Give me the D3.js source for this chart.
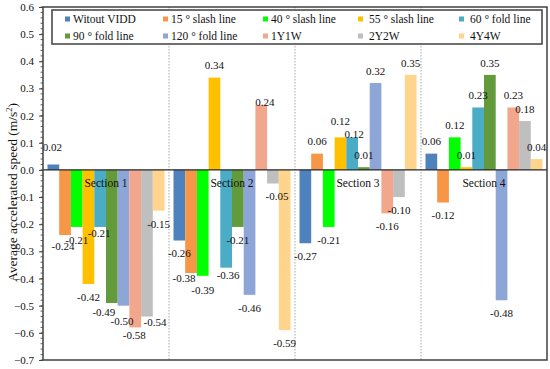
<!DOCTYPE html>
<html><head><meta charset="utf-8">
<script src="https://cdn.jsdelivr.net/npm/d3@7"></script>
</head>
<body style="margin:0;background:#fff"><svg id="chart" width="550" height="369"></svg>
<script>
// ---------- data ----------
const sections = ["Section 1", "Section 2", "Section 3", "Section 4"];
const seriesNames = ["Witout VIDD", "15 ° slash line", "40 ° slash line", "55 ° slash line", "60 ° fold line",
  "90 ° fold line", "120 ° fold line", "1Y1W", "2Y2W", "4Y4W"];
const witoutVIDD = [0.02, -0.26, -0.27, 0.06];
const slash15 = [-0.24, -0.38, 0.06, -0.12];
const slash40 = [-0.21, -0.39, -0.21, 0.12];
const slash55 = [-0.42, 0.34, 0.12, 0.01];
const fold60 = [-0.21, -0.36, 0.12, 0.23];
const fold90 = [-0.49, -0.21, 0.01, 0.35];
const fold120 = [-0.50, -0.46, 0.32, -0.48];
const y1w1 = [-0.58, 0.24, -0.16, 0.23];
const y2w2 = [-0.54, -0.05, -0.10, 0.18];
const y4w4 = [-0.15, -0.59, 0.35, 0.04];
const yTicks = [0.6, 0.5, 0.4, 0.3, 0.2, 0.1, 0.0, -0.1, -0.2, -0.3, -0.4, -0.5, -0.6, -0.7];

const seriesValues = [witoutVIDD, slash15, slash40, slash55, fold60, fold90, fold120, y1w1, y2w2, y4w4];
const colors = ["#4f81bd", "#f79646", "#00ff00", "#ffc000", "#4bacc6", "#639a3c", "#8ea5d8", "#f2a68c", "#bfbfbf", "#ffd48c"];
const FONT = '"Liberation Serif", "Times New Roman", serif';
const K = 0.5; // draw text large and scale down

// label nudges [dx, dy] keyed "section,series" (layout only)
const nudge = {
  "0,0": [-1, -5.5], "0,1": [-2, -1.5], "0,4": [-1, -7], "0,5": [-8, -4], "0,6": [-1.5, 2],
  "0,7": [-1, -5.5], "0,8": [8, -7.5],
  "1,1": [-7, -8], "1,2": [0, 1], "1,4": [2, -5.5], "1,7": [3.5, 9], "1,8": [4, 0],
  "2,3": [0, -4.4], "2,4": [2, 8.4]
};

function styleText(sel, px) {
  return sel.style("font-family", FONT).style("font-size", (px / K) + "px").attr("fill", "#111");
}

// ---------- layout ----------
const svg = d3.select("#chart");
const L = 43, R = 547, T = 7, B = 360;

const x0 = d3.scaleBand().domain(d3.range(sections.length)).range([L, R]).padding(0);
const x1 = d3.scaleBand().domain(d3.range(seriesNames.length))
  .range([4.5, x0.bandwidth() - 4.5]).padding(0);
const y = d3.scaleLinear().domain([-0.7, 0.6]).range([B, T]);

// section dividers (dotted)
svg.append("g").selectAll("line").data(d3.range(1, sections.length)).join("line")
  .attr("x1", d => x0(d)).attr("x2", d => x0(d))
  .attr("y1", T).attr("y2", B)
  .attr("stroke", "#a6a6a6").attr("stroke-width", 1).attr("stroke-dasharray", "1.5,1.5");

// bars
const barData = [];
sections.forEach((s, si) => seriesValues.forEach((vals, k) => barData.push({si, k, v: vals[si]})));

svg.append("g").selectAll("rect").data(barData).join("rect")
  .attr("x", d => x0(d.si) + x1(d.k))
  .attr("width", x1.bandwidth())
  .attr("y", d => y(Math.max(0, d.v)))
  .attr("height", d => Math.abs(y(d.v) - y(0)))
  .attr("fill", d => colors[d.k]);

// zero line
svg.append("line").attr("x1", L).attr("x2", R).attr("y1", y(0)).attr("y2", y(0))
  .attr("stroke", "#262626").attr("stroke-width", 1.2);

// value labels
const nx = d => (nudge[d.si + "," + d.k] || [0, 0])[0];
const ny = d => (nudge[d.si + "," + d.k] || [0, 0])[1];
styleText(svg.append("g").selectAll("text").data(barData).join("text")
  .attr("transform", d => `translate(${x0(d.si) + x1(d.k) + x1.bandwidth() / 2 + nx(d)},${(d.v >= 0 ? y(d.v) - 12 : y(d.v) + 13) + ny(d)}) scale(${K})`)
  .attr("dy", "0.35em")
  .attr("text-anchor", "middle"), 11)
  .text(d => d.v.toFixed(2));

// section labels
styleText(svg.append("g").selectAll("text").data(sections).join("text")
  .attr("transform", (d, i) => `translate(${x0(i) + x0.bandwidth() / 2},${y(0) + 13}) scale(${K})`)
  .attr("dy", "0.35em")
  .attr("text-anchor", "middle"), 11.5)
  .text(d => d);

// y axis with minor ticks
const minor = d3.range(-70, 61, 2).map(v => v / 100);
svg.append("g").selectAll("line").data(minor).join("line")
  .attr("x1", L - 2.5).attr("x2", L)
  .attr("y1", d => y(d)).attr("y2", d => y(d))
  .attr("stroke", "#404040").attr("stroke-width", 0.8);

const yAxis = d3.axisLeft(y).tickValues(yTicks).tickFormat(d3.format(".1f")).tickSize(4).tickPadding(6);
const gy = svg.append("g").attr("transform", `translate(${L},0)`).call(yAxis);
gy.select(".domain").remove();
gy.selectAll(".tick line").attr("stroke", "#404040");
gy.selectAll(".tick text").each(function () {
  const t = d3.select(this);
  t.attr("transform", `translate(-9,0) scale(${K})`).attr("x", 0);
  styleText(t, 11);
});

// plot border
svg.append("rect").attr("x", L).attr("y", T).attr("width", R - L).attr("height", B - T)
  .attr("fill", "none").attr("stroke", "#404040").attr("stroke-width", 1.5);

// y title
const yt = styleText(svg.append("text")
  .attr("transform", `translate(12,${(T + B) / 2 + 9}) rotate(-90) scale(${K})`)
  .attr("text-anchor", "middle")
  .attr("dy", "0.35em"), 13.5);
yt.append("tspan").text("Average accelerated speed (m/s");
yt.append("tspan").attr("baseline-shift", "super").style("font-size", (8.5 / K) + "px").text("2");
yt.append("tspan").text(")");

// legend
const lg = svg.append("g");
lg.append("rect").attr("x", 52).attr("y", 10).attr("width", 490).attr("height", 34)
  .attr("fill", "#fff").attr("stroke", "#404040").attr("stroke-width", 1.5);
const colX = [65, 163, 263, 358, 459];
const textOff = [8, 8, 8, 11, 11];
const rowY = [19, 36];
const items = lg.selectAll("g.item").data(seriesNames).join("g").attr("class", "item")
  .attr("transform", (d, i) => `translate(${colX[i % 5]},${rowY[Math.floor(i / 5)]})`);
items.append("rect").attr("x", 0).attr("y", -2.5).attr("width", 5).attr("height", 5)
  .attr("fill", (d, i) => colors[i]);
styleText(items.append("text")
  .attr("transform", (d, i) => `translate(${textOff[i % 5]},0) scale(${K})`)
  .attr("dy", "0.35em"), 11.5)
  .text(d => d);
</script>
</body></html>
